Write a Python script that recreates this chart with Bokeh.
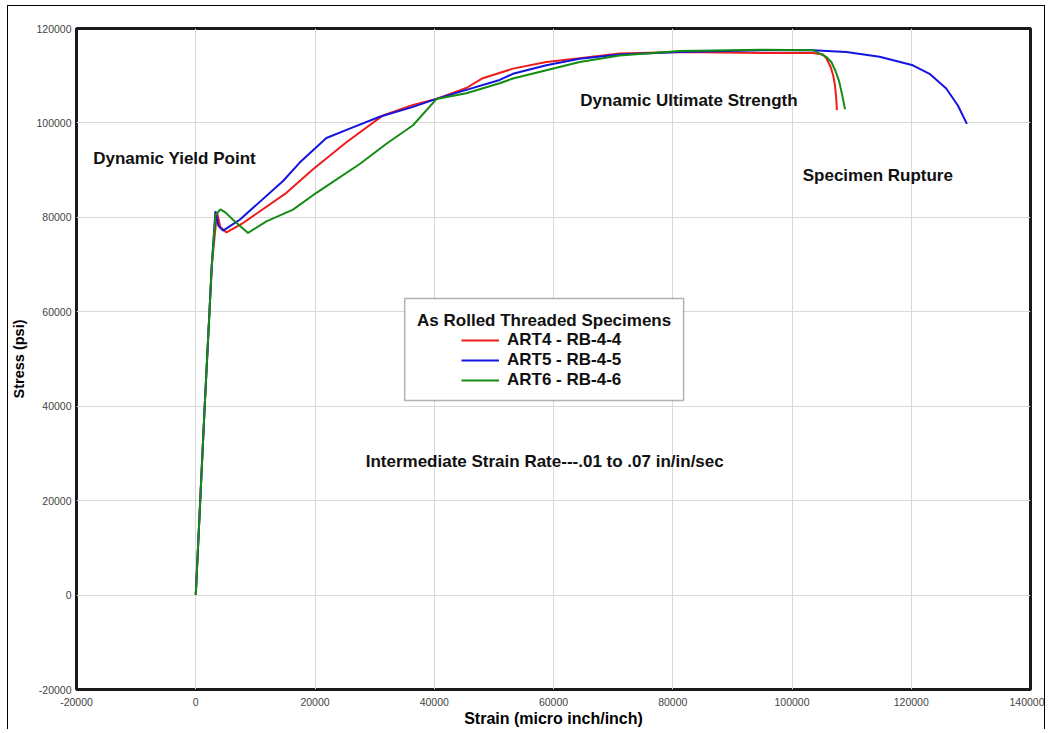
from bokeh.plotting import figure
from bokeh.models import (Range1d, FixedTicker, Legend, LegendItem, Label, BoxAnnotation)
from bokeh.embed import file_html
from bokeh.resources import INLINE

# ---- data ----
x_ticks = [-20000, 0, 20000, 40000, 60000, 80000, 100000, 120000, 140000]
x_tick_labels = ["-20000", "0", "20000", "40000", "60000", "80000", "100000", "120000", "140000"]
y_ticks = [-20000, 0, 20000, 40000, 60000, 80000, 100000, 120000]
y_tick_labels = ["-20000", "0", "20000", "40000", "60000", "80000", "100000", "120000"]

art4_strain = [0, 1500, 2700, 3570, 4100, 5150, 7930, 15210, 19670, 25270, 31400, 36440, 40360,
               45390, 48000, 53200, 58800, 64390, 71090, 81150, 97920, 103500, 105200, 105800,
               106500, 106900, 107200, 107400, 107530]
art4_stress = [0, 40000, 70000, 81100, 78000, 76800, 78800, 85200, 90200, 95900, 101600, 103800, 105100,
               107400, 109400, 111500, 112900, 113700, 114700, 115000, 114800, 114800, 114500, 113600,
               111800, 110100, 108000, 105500, 102700]

art5_strain = [0, 1500, 2700, 3300, 3800, 4580, 7380, 14640, 17440, 21910, 25820, 30850, 36440, 40360,
               45390, 50970, 53200, 58800, 64390, 71090, 81150, 95070, 103500, 109100, 114690, 120270,
               123070, 125870, 127820, 129330]
art5_stress = [0, 40000, 70000, 81300, 78200, 77200, 79500, 87700, 91600, 96800, 98800, 101300, 103400, 105100,
               107000, 109100, 110400, 112200, 113600, 114500, 115000, 115400, 115400, 115000, 114000, 112200,
               110400, 107300, 103700, 99800]

art6_strain = [0, 1500, 2700, 3300, 4140, 5000, 6250, 8770, 11850, 16310, 20240, 27500, 31980, 36440,
               40360, 45390, 50970, 53200, 58800, 64390, 71090, 81150, 95070, 103500, 105750, 106600,
               107300, 107900, 108400, 108900]
art6_stress = [0, 40000, 70000, 80500, 81700, 81000, 79500, 76700, 79150, 81650, 85200, 91300, 95600, 99500,
               105050, 106300, 108400, 109400, 111150, 112900, 114300, 115250, 115500, 115400, 114000, 112900,
               111000, 108800, 106000, 102900]

series_names = ["ART4 - RB-4-4", "ART5 - RB-4-5", "ART6 - RB-4-6"]
series_colors = ["#f01c1c", "#1414e0", "#148c14"]

FONT = "Liberation Sans"

p = figure(width=1038, height=724,
           x_range=Range1d(-20000, 140000), y_range=Range1d(-20000, 120000),
           output_backend="svg", toolbar_location=None,
           min_border_left=68, min_border_right=16, min_border_top=22, min_border_bottom=41,
           background_fill_color="white", border_fill_color="white",
           styles={"margin-left": "7px", "margin-top": "5px",
                   "border-left": "1.5px solid black", "border-top": "1.5px solid black",
                   "border-right": "1.5px solid black"})

p.outline_line_color = "#1a1a1a"
p.outline_line_width = 3

for ax in (p.xaxis[0], p.yaxis[0]):
    ax.axis_line_color = None
    ax.major_tick_line_color = None
    ax.minor_tick_line_color = None
    ax.major_tick_out = 0
    ax.major_tick_in = 0
    ax.minor_tick_out = 0
    ax.minor_tick_in = 0
    ax.major_label_text_font = FONT
    ax.major_label_text_font_size = "10.5px"
    ax.major_label_text_color = "#444444"
    ax.axis_label_text_font = FONT
    ax.axis_label_text_font_style = "bold"
    ax.axis_label_text_color = "black"

p.xaxis.axis_label_text_font_size = "16px"
p.yaxis.axis_label_text_font_size = "14.5px"
p.xaxis.ticker = FixedTicker(ticks=x_ticks)
p.yaxis.ticker = FixedTicker(ticks=y_ticks)
p.xaxis.major_label_overrides = dict(zip(x_ticks, x_tick_labels))
p.yaxis.major_label_overrides = dict(zip(y_ticks, y_tick_labels))
p.xaxis.major_label_standoff = 8
p.yaxis.major_label_standoff = 5
p.xaxis.axis_label = "Strain (micro inch/inch)"
p.yaxis.axis_label = "Stress (psi)"
p.xaxis.axis_label_standoff = 1
p.yaxis.axis_label_standoff = 6

p.xgrid.grid_line_color = "#d9d9d9"
p.ygrid.grid_line_color = "#d9d9d9"
p.xgrid.grid_line_width = 1
p.ygrid.grid_line_width = 1

renderers = []
for xs, ys, c in [(art4_strain, art4_stress, series_colors[0]),
                  (art5_strain, art5_stress, series_colors[1]),
                  (art6_strain, art6_stress, series_colors[2])]:
    r = p.line(xs, ys, line_color=c, line_width=2)
    renderers.append(r)

# annotation texts
for txt, x, y in [("Dynamic Yield Point", -17200, 92500),
                  ("Dynamic Ultimate Strength", 64500, 104800),
                  ("Specimen Rupture", 101800, 88900),
                  ("Intermediate Strain Rate---.01 to .07 in/in/sec", 28500, 28300)]:
    p.add_layout(Label(x=x, y=y, text=txt, text_font=FONT, text_font_style="bold",
                       text_font_size="17px", text_align="left", text_baseline="middle",
                       text_color="#111111"))

# legend box
box = BoxAnnotation(left=35040, right=81820, bottom=41230, top=62840,
                    fill_color="white", fill_alpha=1.0, line_color="black", line_width=1.5,
                    level="annotation")
p.add_layout(box)
p.add_layout(Label(x=58430, y=58180, text="As Rolled Threaded Specimens", text_font=FONT,
                   text_font_style="bold", text_font_size="17px", text_align="center",
                   text_baseline="middle", text_color="#111111"))

legend = Legend(items=[LegendItem(label=n, renderers=[r]) for n, r in zip(series_names, renderers)],
                location=(385, 299), padding=0, margin=0, spacing=0,
                glyph_width=38, glyph_height=20, label_height=20, label_standoff=8,
                border_line_color=None, background_fill_alpha=0,
                label_text_font=FONT, label_text_font_style="bold", label_text_font_size="17px",
                label_text_color="#111111")
p.add_layout(legend)

open("out.html", "w").write(file_html(p, INLINE))
